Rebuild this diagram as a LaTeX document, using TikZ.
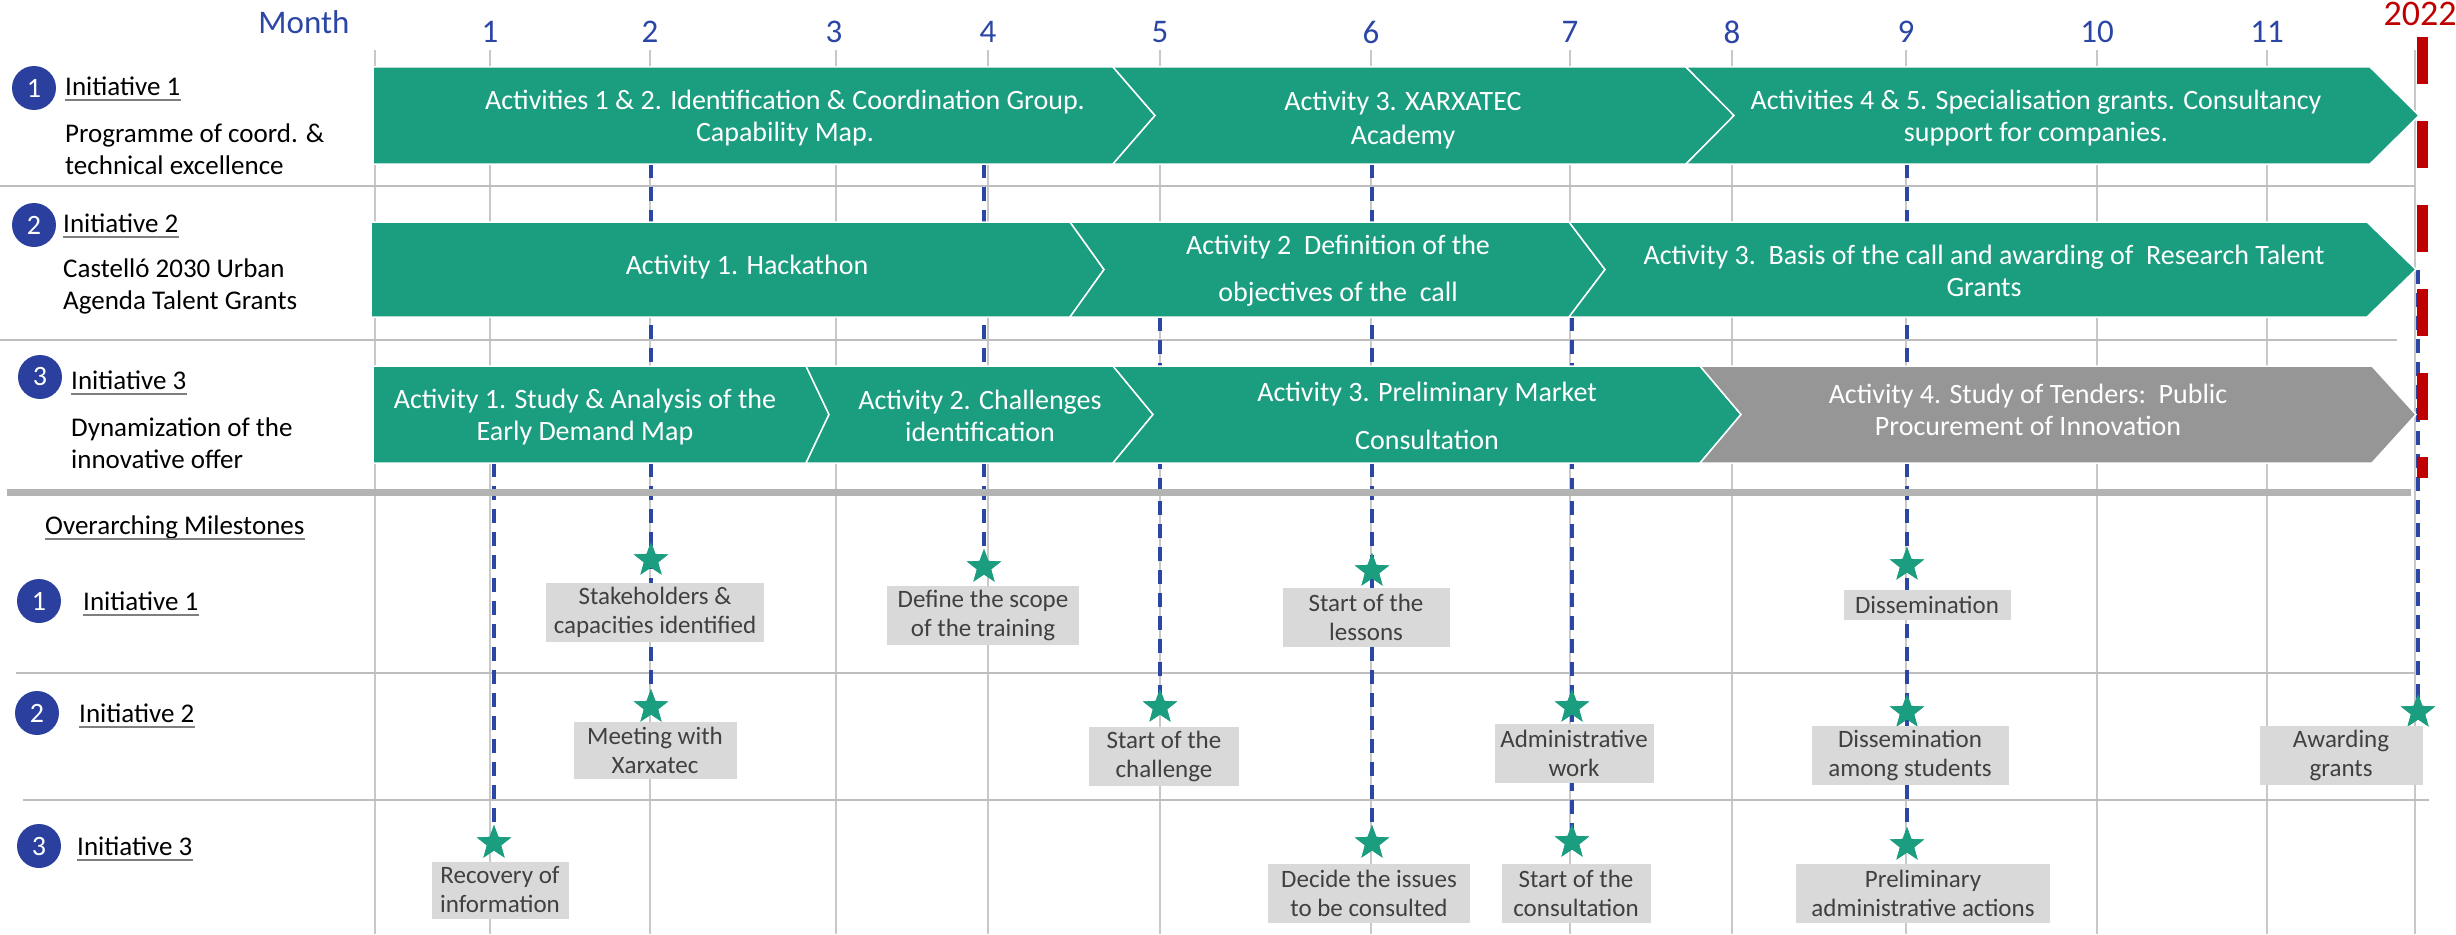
\documentclass[tikz,border=0pt]{standalone}
\usepackage{fontspec}
\setmainfont{Carlito}
\usetikzlibrary{shapes.geometric}
\definecolor{barg}{HTML}{1B9D7F}
\definecolor{barq}{HTML}{969696}
\definecolor{blu}{HTML}{2C46A6}
\definecolor{circ}{HTML}{2B409E}
\definecolor{redc}{HTML}{C00000}
\definecolor{gridc}{HTML}{C8C8C8}
\definecolor{sepc}{HTML}{BEBEBE}
\definecolor{thickc}{HTML}{B3B3B3}
\definecolor{lblfill}{HTML}{D9D9D9}
\definecolor{lbltxt}{HTML}{404040}
\definecolor{ulc}{HTML}{7F7F7F}
\begin{document}
\begin{tikzpicture}[x=1pt,y=-1pt,
  gridln/.style={draw=gridc, line width=1.5pt},
  sepln/.style={draw=sepc, line width=2.5pt},
  bar/.style={fill=barg, draw=white, line width=1.5pt},
  greybar/.style={fill=barq, draw=white, line width=1.5pt},
  bartxt/.style={text=white, font=\fontsize{28}{32}\selectfont, align=center, inner sep=0pt},
  lbl/.style={fill=lblfill, text=lbltxt, font=\fontsize{25}{29}\selectfont, align=center, inner sep=0pt},
  ms/.style={star, star points=5, star point ratio=2.4, fill=barg, minimum size=36pt, inner sep=0pt},
  msline/.style={draw=blu, line width=3.5pt, dash pattern=on 14pt off 9pt},
  num/.style={circle, fill=circ, text=white, minimum size=44pt, inner sep=0pt, font=\fontsize{28}{32}\selectfont},
  lefttxt/.style={anchor=west, inner sep=0pt, font=\fontsize{27}{32}\selectfont, align=left},
  uline/.style={draw=ulc, line width=1.5pt},
  mon/.style={text=blu, font=\fontsize{33}{36}\selectfont, inner sep=0pt}]
\useasboundingbox (0,0) rectangle (2456,934);
\fill[white] (0,0) rectangle (2456,934);

% month grid
\foreach \gx in {375,490,650,836,988,1160,1371,1570,1732,1906,2097,2267,2415}
  \draw[gridln] (\gx,50) -- (\gx,934);

% row separators
\draw[sepln] (0,186) -- (2415,186);
\draw[sepln] (0,340) -- (2397,340);
\draw[sepln] (16,673) -- (2415,673);
\draw[sepln] (23,800) -- (2429,800);

% month header
\node[mon] (month) at (304,22) {Month};
\foreach \gx/\lab in {490/1,650/2,834/3,988/4,1160/5,1371/6,1570/7,1732/8,1906/9,2097/10,2267/11}
  \node[mon] (mo\lab) at (\gx,32) {\lab};
\node[text=redc, font=\fontsize{36}{40}\selectfont, inner sep=0pt] (yr) at (2420,14) {2022};

% milestone lines start points
\coordinate (d1) at (494,463);
\coordinate (d2) at (651,164);
\coordinate (d4) at (984,164);
\coordinate (d5) at (1160,317);
\coordinate (d6) at (1372,164);
\coordinate (d7) at (1572,317);
\coordinate (d9) at (1907,164);
\coordinate (dE) at (2418,270);

% milestone stars
\node[ms] (sA) at (651,560) {};
\node[ms] (sB) at (651,707) {};
\node[ms] (sC) at (494,843) {};
\node[ms] (sD) at (984,567) {};
\node[ms] (sE) at (1160,707) {};
\node[ms] (sF) at (1372,571) {};
\node[ms] (sG) at (1372,843) {};
\node[ms] (sH) at (1572,707) {};
\node[ms] (sI) at (1572,842) {};
\node[ms] (sJ) at (1907,565) {};
\node[ms] (sK) at (1907,712) {};
\node[ms] (sL) at (1907,845) {};
\node[ms] (sM) at (2418,712) {};

% dashed milestone connectors
\draw[msline] (d1) -- (sC.center);
\draw[msline] (d2) -- (sA.center) -- (sB.center);
\draw[msline] (d4) -- (sD.center);
\draw[msline] (d5) -- (sE.center);
\draw[msline] (d6) -- (sF.center) -- (sG.center);
\draw[msline] (d7) -- (sH.center) -- (sI.center);
\draw[msline] (d9) -- (sJ.center) -- (sK.center) -- (sL.center);
\draw[msline] (dE) -- (sM.center);

% redraw stars above connectors
\foreach \sn in {sA,sB,sC,sD,sE,sF,sG,sH,sI,sJ,sK,sL,sM}
  \node[ms] at (\sn.center) {};

% separator between activities and milestones
\draw[draw=thickc, line width=7pt] (7,492) -- (2411,492);

% initiative 1 bars
\path[bar] (373,67) -- (1113,67) -- (1155,115.5) -- (1113,164) -- (373,164) -- cycle;
\path[bar] (1113,67) -- (1686,67) -- (1734,115.5) -- (1686,164) -- (1113,164) -- (1155,115.5) -- cycle;
\path[bar] (1686,67) -- (2370,67) -- (2419,115.5) -- (2370,164) -- (1686,164) -- (1734,115.5) -- cycle;
% initiative 2 bars
\path[bar] (371,222) -- (1070,222) -- (1104,269.5) -- (1070,317) -- (371,317) -- cycle;
\path[bar] (1070,222) -- (1569,222) -- (1605,269.5) -- (1569,317) -- (1070,317) -- (1104,269.5) -- cycle;
\path[bar] (1569,222) -- (2367,222) -- (2416,269.5) -- (2367,317) -- (1569,317) -- (1605,269.5) -- cycle;
% initiative 3 bars
\path[bar] (373,366) -- (806,366) -- (829,414.5) -- (806,463) -- (373,463) -- cycle;
\path[bar] (806,366) -- (1113,366) -- (1153,414.5) -- (1113,463) -- (806,463) -- (829,414.5) -- cycle;
\path[bar] (1113,366) -- (1700,366) -- (1741,414.5) -- (1700,463) -- (1113,463) -- (1153,414.5) -- cycle;
\path[greybar] (1700,366) -- (2372,366) -- (2416,414.5) -- (2372,463) -- (1700,463) -- (1741,414.5) -- cycle;

% bar texts
\node[bartxt] (a11) at (785,118) {Activities 1 \& 2. Identification \& Coordination Group.\\Capability Map.};
\node[bartxt] (a12) at (1403,120) {Activity 3. XARXATEC\\[2pt]Academy};
\node[bartxt] (a13) at (2036,118) {Activities 4 \& 5. Specialisation grants. Consultancy\\support for companies.};
\node[bartxt] (a21) at (747,267) {Activity 1. Hackathon};
\node[bartxt] (a22) at (1338,271) {Activity 2\ \ Definition of the\\[15pt]objectives of the\ \ call};
\node[bartxt] (a23) at (1984,271) {Activity 3.\ \ Basis of the call and awarding of\ \ Research Talent\\Grants};
\node[bartxt] (a31) at (585,417) {Activity 1. Study \& Analysis of the\\Early Demand Map};
\node[bartxt] (a32) at (980,416) {Activity 2. Challenges\\identification};
\node[bartxt] (a33) at (1427,416) {Activity 3. Preliminary Market\\[16pt]Consultation};
\node[bartxt] (a34) at (2028,410) {Activity 4. Study of Tenders:\ \ Public\\Procurement of Innovation};

% milestone labels
\node[lbl, minimum width=218pt, minimum height=59pt] (lA) at (655,612) {Stakeholders \&\\capacities identified};
\node[lbl, minimum width=163pt, minimum height=57pt] (lB) at (655,750) {Meeting with\\Xarxatec};
\node[lbl, minimum width=137pt, minimum height=57pt] (lC) at (500,890) {Recovery of\\information};
\node[lbl, minimum width=192pt, minimum height=59pt] (lD) at (983,615) {Define the scope\\of the training};
\node[lbl, minimum width=150pt, minimum height=59pt] (lE) at (1164,756) {Start of the\\challenge};
\node[lbl, minimum width=167pt, minimum height=59pt] (lF) at (1366,617) {Start of the\\lessons};
\node[lbl, minimum width=202pt, minimum height=59pt] (lG) at (1369,893) {Decide the issues\\to be consulted};
\node[lbl, minimum width=159pt, minimum height=59pt] (lH) at (1574,753) {Administrative\\work};
\node[lbl, minimum width=149pt, minimum height=59pt] (lI) at (1576,893) {Start of the\\consultation};
\node[lbl, minimum width=167pt, minimum height=30pt] (lJ) at (1927,605) {Dissemination};
\node[lbl, minimum width=197pt, minimum height=59pt] (lK) at (1910,755) {Dissemination\\among students};
\node[lbl, minimum width=254pt, minimum height=59pt] (lL) at (1923,893) {Preliminary\\administrative actions};
\node[lbl, minimum width=163pt, minimum height=59pt] (lM) at (2341,755) {Awarding\\grants};

% left column: initiatives
\node[num] (c1) at (34,88) {1};
\node[lefttxt] (i1) at (65,86) {Initiative 1};
\node[lefttxt] (i1d) at (65,149) {Programme of coord. \&\\technical excellence};
\node[num] (c2) at (34,225) {2};
\node[lefttxt] (i2) at (63,223) {Initiative 2};
\node[lefttxt] (i2d) at (63,286) {Castelló 2030 Urban\\Agenda Talent Grants};
\node[num] (c3) at (40,377) {3};
\node[lefttxt] (i3) at (71,380) {Initiative 3};
\node[lefttxt] (i3d) at (71,443) {Dynamization of the\\innovative offer};

% left column: milestones
\node[lefttxt] (om) at (45,527) {Overarching Milestones};
\node[num] (mc1) at (39,601) {1};
\node[lefttxt] (mi1) at (83,601) {Initiative 1};
\node[num] (mc2) at (37,713) {2};
\node[lefttxt] (mi2) at (79,713) {Initiative 2};
\node[num] (mc3) at (39,846) {3};
\node[lefttxt] (mi3) at (77,846) {Initiative 3};

% underlines
\foreach \un in {i1,i2,i3,mi1,mi2,mi3,om}
  \draw[uline] ([yshift=-5pt]\un.base west) -- ([yshift=-5pt]\un.base east);

% year boundary
\draw[draw=redc, line width=11pt, dash pattern=on 47pt off 37pt] (2422,37) -- (2422,478);
\end{tikzpicture}
\end{document}
